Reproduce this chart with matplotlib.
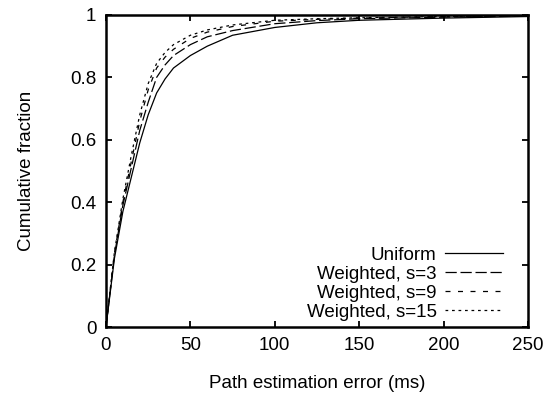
import matplotlib
matplotlib.use('Agg')
import matplotlib.pyplot as plt

plt.rcParams['font.family'] = ['Liberation Sans', 'DejaVu Sans']

# error (ms) and cumulative fraction
err_ms = [0, 5, 10, 15, 20, 25, 30, 35, 40, 50, 60, 75, 100, 125, 150, 200, 250]
uniform = [0, 0.22, 0.37, 0.48, 0.59, 0.68, 0.75, 0.795, 0.83, 0.87, 0.90, 0.935, 0.96, 0.975, 0.983, 0.99, 0.995]
weighted_s3 = [0, 0.23, 0.39, 0.51, 0.63, 0.72, 0.80, 0.84, 0.87, 0.905, 0.93, 0.95, 0.972, 0.982, 0.988, 0.993, 0.997]
weighted_s9 = [0, 0.235, 0.40, 0.53, 0.66, 0.76, 0.83, 0.865, 0.89, 0.925, 0.945, 0.963, 0.98, 0.986, 0.99, 0.995, 0.998]
weighted_s15 = [0, 0.24, 0.41, 0.55, 0.68, 0.78, 0.845, 0.88, 0.905, 0.935, 0.952, 0.968, 0.983, 0.988, 0.991, 0.995, 0.998]

series = [
    ('Uniform', uniform, None),
    ('Weighted, s=3', weighted_s3, (9, 3)),
    ('Weighted, s=9', weighted_s9, (4, 6)),
    ('Weighted, s=15', weighted_s15, (2.2, 3)),
]

fig = plt.figure(figsize=(5.5, 3.94), dpi=100)
ax = fig.add_axes([0.1927, 0.17, 0.7673, 0.792])

for label, vals, dash in series:
    line, = ax.plot(err_ms, vals, color='black', lw=0.9, label=label)
    if dash is not None:
        line.set_dashes(dash)

ax.set_xlim(0, 250)
ax.set_ylim(0, 1)
ax.set_xticks([0, 50, 100, 150, 200, 250])
ax.set_yticks([0, 0.2, 0.4, 0.6, 0.8, 1])
ax.set_yticklabels(['0', '0.2', '0.4', '0.6', '0.8', '1'])
ax.tick_params(direction='in', top=True, right=True, length=4, width=1.3,
               labelsize=13.5)
ax.tick_params(axis='x', pad=7)
ax.tick_params(axis='y', pad=7)
for s in ax.spines.values():
    s.set_linewidth(1.8)

ax.set_xlabel('Path estimation error (ms)', fontsize=13.5, labelpad=15)
ax.set_ylabel('Cumulative fraction', fontsize=13.5, labelpad=25)

ax.legend(loc='lower right', bbox_to_anchor=(0.941, 0.02), frameon=False,
          markerfirst=False, alignment='right', fontsize=13.5,
          handlelength=3.1, handletextpad=0.45, labelspacing=0.1,
          borderpad=0, borderaxespad=0)

fig.savefig('out.png', dpi=100)
